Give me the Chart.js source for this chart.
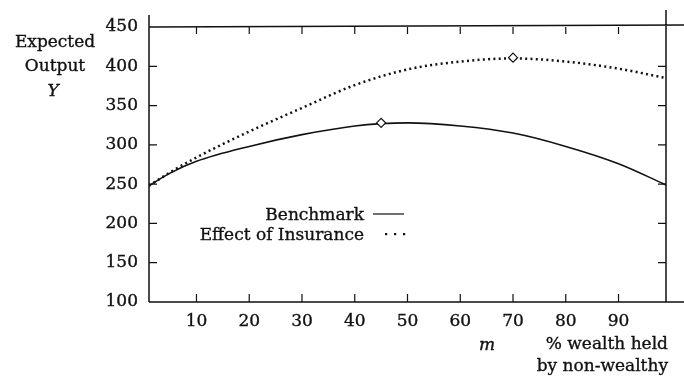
<!DOCTYPE html>
<html>
<head>
<meta charset="utf-8">
<script src="https://cdn.jsdelivr.net/npm/chart.js@4"></script>
<style>
  html, body { margin: 0; padding: 0; background: #fff; }
  #wrap { width: 684px; height: 377px; }
</style>
</head>
<body>
<div id="wrap"><canvas id="chart"></canvas></div>
<script>
// m = % Vermögen bei Nicht-Vermögenden, Y = erwarteter Output
const benchM = [1, 5, 10, 20, 30, 40, 45, 50, 60, 70, 80, 90, 99];
const benchY = [248, 264, 279, 298, 313, 324, 327, 328, 324, 315, 298, 276, 249];

const insurM = [1, 5, 10, 20, 30, 40, 50, 60, 70, 80, 90, 99];
const insurY = [248, 265, 284, 317, 347, 376, 396, 406, 410, 406, 397, 385];

// Maxima (Rauten)
const peakM = [45, 70];
const peakY = [328, 411];

const xTicks = [10, 20, 30, 40, 50, 60, 70, 80, 90];
const yTicks = [100, 150, 200, 250, 300, 350, 400, 450];

const FONT = '"DejaVu Serif", "Liberation Serif", serif';
const INK = '#111';

const xy = (xs, ys) => xs.map((x, i) => ({ x: x, y: ys[i] }));

// Text etwas kräftiger (leicht nachgezogen)
function txt(ctx, s, x, y) {
  ctx.fillText(s, x, y);
  ctx.strokeText(s, x, y);
}

// Achsen, Ticks nach innen, Beschriftungen und Legende selbst zeichnen
const framePlugin = {
  id: 'frame',
  afterDraw(chart) {
    const { ctx, chartArea: a, scales } = chart;
    const sx = scales.x, sy = scales.y;
    ctx.save();
    ctx.strokeStyle = INK;
    ctx.lineWidth = 1.5;
    ctx.beginPath();
    ctx.moveTo(a.left, a.top - 12); ctx.lineTo(a.left, a.bottom);      // links
    ctx.moveTo(a.right, a.top - 17); ctx.lineTo(a.right, a.bottom);    // rechts
    ctx.moveTo(a.left, a.top); ctx.lineTo(chart.width, a.top - 2);     // oben
    ctx.moveTo(a.left, a.bottom); ctx.lineTo(chart.width, a.bottom);   // unten
    ctx.stroke();

    ctx.lineWidth = 1.2;
    ctx.beginPath();
    xTicks.forEach(v => {
      const px = sx.getPixelForValue(v);
      ctx.moveTo(px, a.bottom); ctx.lineTo(px, a.bottom - 8);
      ctx.moveTo(px, a.top); ctx.lineTo(px, a.top + 7);
    });
    yTicks.forEach(v => {
      if (v === 100 || v === 450) return;
      const py = sy.getPixelForValue(v);
      ctx.moveTo(a.left, py); ctx.lineTo(a.left + 8, py);
      ctx.moveTo(a.right, py); ctx.lineTo(a.right - 8, py);
    });
    ctx.stroke();

    ctx.fillStyle = INK;
    ctx.lineWidth = 0.35;
    ctx.font = '17px ' + FONT;
    ctx.textBaseline = 'middle';
    ctx.textAlign = 'right';
    yTicks.forEach(v => txt(ctx, String(v), a.left - 11, sy.getPixelForValue(v)));
    ctx.textAlign = 'center';
    xTicks.forEach(v => txt(ctx, String(v), sx.getPixelForValue(v), a.bottom + 20));

    // Achsentitel
    txt(ctx, 'Expected', 55, 43);
    txt(ctx, 'Output', 55, 67);
    ctx.font = 'italic 17px ' + FONT;
    txt(ctx, 'Y', 53, 92);
    txt(ctx, 'm', 487, 346);
    ctx.font = '17px ' + FONT;
    ctx.textAlign = 'right';
    txt(ctx, '% wealth held', 668, 345);
    txt(ctx, 'by non-wealthy', 668, 367);

    // Legende
    txt(ctx, 'Benchmark', 364, 216);
    txt(ctx, 'Effect of Insurance', 364, 236);
    ctx.lineWidth = 1.2;
    ctx.beginPath();
    ctx.moveTo(373, 214); ctx.lineTo(404, 214);
    ctx.stroke();
    [386, 395, 404].forEach(x => ctx.fillRect(x - 1, 233, 2.2, 2.2));
    ctx.restore();
  }
};

new Chart(document.getElementById('chart'), {
  type: 'scatter',
  data: {
    datasets: [
      {
        label: 'Peaks',
        data: xy(peakM, peakY),
        pointStyle: 'rectRot',
        pointRadius: 4.5,
        backgroundColor: '#fff',
        borderColor: INK,
        borderWidth: 1.2,
        showLine: false,
        order: 0
      },
      {
        label: 'Benchmark',
        data: xy(benchM, benchY),
        showLine: true,
        borderColor: INK,
        borderWidth: 1.6,
        pointRadius: 0,
        cubicInterpolationMode: 'monotone',
        order: 1
      },
      {
        label: 'Effect of Insurance',
        data: xy(insurM, insurY),
        showLine: true,
        borderColor: INK,
        borderWidth: 2.5,
        borderDash: [2, 3.3],
        pointRadius: 0,
        cubicInterpolationMode: 'monotone',
        order: 2
      }
    ]
  },
  options: {
    responsive: true,
    maintainAspectRatio: false,
    animation: false,
    layout: { padding: { left: 149, right: 18, top: 27, bottom: 75 } },
    plugins: { legend: { display: false }, tooltip: { enabled: false } },
    scales: {
      x: { type: 'linear', display: false, min: 1, max: 99 },
      y: { display: false, min: 100, max: 450 }
    }
  },
  plugins: [framePlugin]
});
</script>
</body>
</html>
